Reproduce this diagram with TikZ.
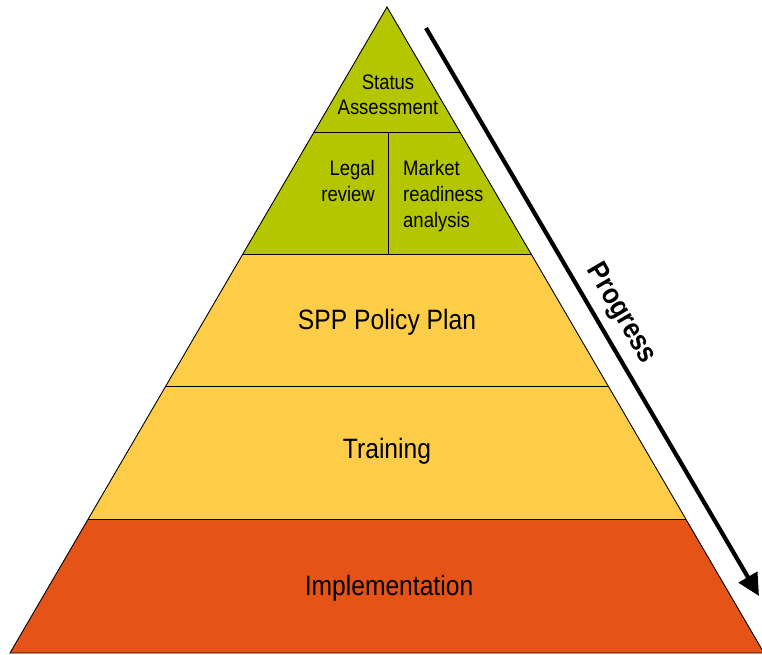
\documentclass[tikz,border=0pt]{standalone}
\usepackage{fontspec}
\setmainfont{Liberation Sans}
\newfontfamily\narrowsans[FakeStretch=0.88]{Liberation Sans}
\usetikzlibrary{calc,arrows.meta}
\definecolor{lvgreen}{RGB}{180,198,0}
\definecolor{lvyellow}{RGB}{254,205,72}
\definecolor{lvorange}{RGB}{229,83,22}
\begin{document}
\begin{tikzpicture}[x=1pt,y=-1pt,
  layer/.style={draw=black,line width=0.9pt,line join=miter},
  smalltxt/.style={font=\narrowsans\fontsize{21}{26}\selectfont,inner sep=0pt},
  bigtxt/.style={font=\narrowsans\fontsize{28}{32}\selectfont,inner sep=0pt,anchor=base},
  progarrow/.style={line width=4.2pt,-{Triangle[length=22pt,width=21pt]}}]
\useasboundingbox (0,0) rectangle (762,654);
\coordinate (A) at (387,7);
\coordinate (BL) at (10,653);
\coordinate (BR) at (764,653);
\coordinate (L1) at ($(A)!0.1935!(BL)$);
\coordinate (R1) at ($(A)!0.1935!(BR)$);
\coordinate (L2) at ($(A)!0.3824!(BL)$);
\coordinate (R2) at ($(A)!0.3824!(BR)$);
\coordinate (L3) at ($(A)!0.5867!(BL)$);
\coordinate (R3) at ($(A)!0.5867!(BR)$);
\coordinate (L4) at ($(A)!0.7926!(BL)$);
\coordinate (R4) at ($(A)!0.7926!(BR)$);
\fill[lvgreen] (A) -- (L2) -- (R2) -- cycle;
\fill[lvyellow] (L2) -- (L4) -- (R4) -- (R2) -- cycle;
\fill[lvorange] (L4) -- (BL) -- (BR) -- (R4) -- cycle;
\draw[layer] (A) -- (BL) -- (BR) -- cycle;
\draw[layer] (L1) -- (R1);
\draw[layer] (L2) -- (R2);
\draw[layer] (L3) -- (R3);
\draw[layer] (L4) -- (R4);
\coordinate (D1) at (388,132);
\coordinate (D2) at (388,254);
\draw[layer] (D1) -- (D2);
\node[smalltxt,align=center,font=\narrowsans\fontsize{21}{25}\selectfont] (status) at (388,95) {Status\\Assessment};
\node[smalltxt,align=right,anchor=east] (legal) at (375,181) {Legal\\review};
\node[smalltxt,align=left,anchor=west] (market) at (403,196) {Market\\readiness\\analysis};
\node[bigtxt] (spp) at (387,329) {SPP Policy Plan};
\node[bigtxt] (train) at (387,458) {Training};
\node[bigtxt] (impl) at (389,595) {Implementation};
\coordinate (ps) at (426,28);
\coordinate (pe) at (759,596);
\draw[progarrow] (ps) -- (pe);
\node[font=\narrowsans\bfseries\fontsize{29}{32}\selectfont,rotate=-59.5,inner sep=0pt] (prog) at (621,314) {Progress};
\end{tikzpicture}
\end{document}
